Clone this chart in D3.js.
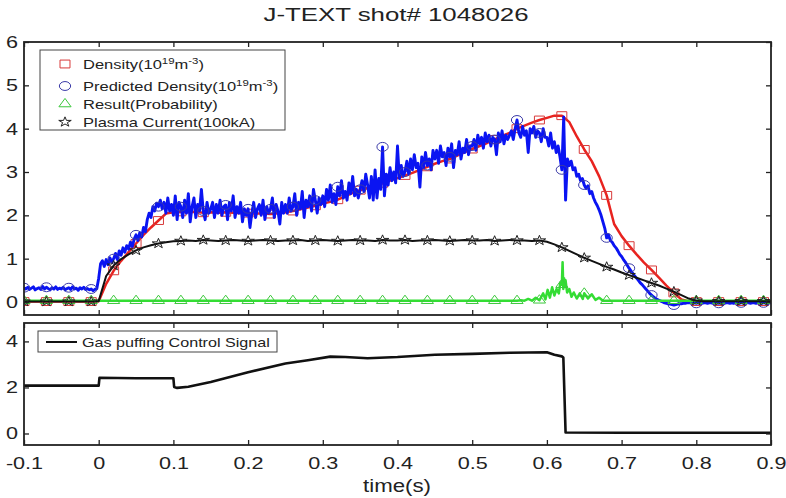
<!DOCTYPE html>
<html>
<head>
<meta charset="utf-8">
<script src="https://cdn.jsdelivr.net/npm/d3@7"></script>
<style>
  body { margin: 0; background: #fff; }
  svg { display: block; }
  text { font-family: "Liberation Sans", Arial, Helvetica, sans-serif; fill: #222; }
</style>
</head>
<body>
<svg id="chart" width="786" height="498"></svg>
<script>
// ---------------- data ----------------
const titleText = "J-TEXT shot# 1048026";
const xLabelText = "time(s)";
const xTicks = [-0.1, 0, 0.1, 0.2, 0.3, 0.4, 0.5, 0.6, 0.7, 0.8, 0.9];
const xTickLabels = ["-0.1", "0", "0.1", "0.2", "0.3", "0.4", "0.5", "0.6", "0.7", "0.8", "0.9"];
const yTopTicks = [0, 1, 2, 3, 4, 5, 6];
const yBottomTicks = [0, 2, 4];

// sampling of the diagnostics
const tStart = -0.1;
const fastStep = 0.0025;   // predicted density
const slowStep = 0.01;     // measured density, plasma current
const markerSpacing = 0.03;

// predicted density (1e19 m^-3), one row = 0.05 s
const predictedDensity = [
  0.33,0.30,0.34,0.29,0.32,0.35,0.28,0.31,0.33,0.29,0.36,0.30,0.34,0.31,0.28,0.33,0.30,0.35,0.29,0.32,
  0.30,0.34,0.28,0.31,0.33,0.29,0.35,0.30,0.32,0.27,0.33,0.30,0.34,0.29,0.31,0.28,0.30,0.26,0.29,0.31,
  0.55,0.88,0.95,0.82,0.98,0.86,1.02,0.92,1.00,1.12,0.98,1.18,1.08,1.25,1.15,1.30,1.22,1.38,1.28,1.45,
  1.55,1.42,1.60,1.50,1.72,1.62,1.90,2.05,1.95,2.20,2.10,2.28,2.20,2.35,2.15,2.30,2.05,2.40,2.10,2.25,
  2.00,2.45,1.90,2.30,2.20,1.95,2.35,2.05,2.50,1.85,2.20,2.40,1.95,2.25,2.10,2.60,2.10,1.90,2.30,2.05,
  2.15,2.30,1.95,2.25,2.05,2.35,2.00,2.20,2.24,1.90,2.30,2.10,2.45,1.95,2.20,2.05,2.30,1.85,2.15,2.00,
  2.15,1.72,2.05,2.30,1.95,2.15,2.25,2.00,2.35,1.90,2.20,2.05,2.15,2.40,1.95,2.25,2.10,1.80,2.30,2.05,
  2.25,2.05,2.40,2.10,2.20,2.50,2.00,2.30,2.15,2.55,1.95,2.35,2.20,2.45,2.10,2.60,2.35,2.05,2.40,2.25,
  2.45,2.20,2.60,2.35,2.70,2.30,2.50,2.25,2.66,2.45,2.80,2.40,2.55,2.35,2.75,2.50,2.90,2.45,2.60,2.40,
  2.60,2.80,2.55,2.95,2.70,2.40,2.90,2.35,3.05,2.40,2.85,2.60,3.58,2.45,2.95,2.70,3.10,2.80,3.00,2.75,
  3.60,2.85,3.15,2.90,3.00,3.25,2.95,3.30,3.05,3.40,3.10,3.20,2.65,3.35,3.10,3.45,3.15,3.30,3.05,3.50,
  3.30,3.50,3.20,3.60,3.35,3.45,3.15,3.55,3.35,3.65,3.10,3.50,3.40,3.70,3.30,3.55,3.45,3.75,3.40,3.60,
  3.60,3.75,3.50,3.85,3.65,3.80,3.55,3.90,3.70,3.85,3.60,3.80,3.75,3.40,3.90,3.70,3.95,3.65,3.85,3.75,
  3.85,3.95,3.75,4.00,4.20,3.90,3.80,4.05,3.85,3.95,3.45,4.00,3.90,4.05,3.80,3.95,3.90,3.70,4.00,3.80,
  3.80,3.60,3.90,3.55,3.70,3.45,3.60,3.35,3.05,4.27,2.35,3.30,3.15,3.25,3.05,3.10,2.90,2.95,2.80,2.85,
  2.70,2.62,2.68,2.50,2.55,2.40,2.30,2.22,2.12,2.00,1.85,1.70,1.48,1.55,1.42,1.38,1.30,1.25,1.18,1.10,
  1.05,0.98,0.92,0.85,0.78,0.72,0.66,0.60,0.55,0.50,0.44,0.40,0.35,0.30,0.25,0.20,0.16,0.12,0.09,0.06,
  0.04,0.02,0.00,-0.02,-0.03,-0.04,-0.05,-0.06,-0.07,-0.06,-0.05,-0.04,-0.04,-0.03,-0.03,-0.02,-0.02,-0.02,-0.02,-0.02,
  -0.03,-0.02,-0.02,-0.03,-0.02,-0.02,-0.03,-0.02,-0.02,-0.03,-0.02,-0.02,-0.03,-0.02,-0.02,-0.03,-0.02,-0.02,-0.03,-0.02,
  -0.03,-0.02,-0.02,-0.03,-0.02,-0.02,-0.03,-0.02,-0.02,-0.03,-0.02,-0.02,-0.03,-0.02,-0.02,-0.03,-0.02,-0.02,-0.03,-0.02,
  -0.02
];

// measured density (1e19 m^-3), one row = 0.1 s
const density = [
  0.01,0.01,0.01,0.01,0.01,0.01,0.01,0.01,0.01,0.01,
  0.02,0.42,0.72,0.95,1.15,1.35,1.55,1.72,1.88,2.04,
  2.07,2.08,2.07,2.08,2.06,2.07,2.06,2.07,2.06,2.05,
  2.05,2.04,2.04,2.03,2.05,2.07,2.10,2.14,2.18,2.22,
  2.27,2.31,2.36,2.44,2.52,2.58,2.63,2.68,2.74,2.80,
  2.86,2.92,2.98,3.05,3.12,3.19,3.25,3.30,3.38,3.46,
  3.53,3.60,3.67,3.75,3.83,3.90,4.00,4.07,4.14,4.20,
  4.25,4.30,4.30,4.15,3.82,3.52,3.25,2.90,2.46,1.80,
  1.52,1.30,1.10,0.91,0.74,0.56,0.38,0.21,0.06,0.01,
  0.01,0.01,0.01,0.01,0.01,0.01,0.01,0.01,0.01,0.01,
  0.01
];

// plasma current (100 kA), one row = 0.1 s
const plasmaCurrent = [
  0.01,0.01,0.01,0.01,0.01,0.01,0.01,0.01,0.01,0.01,
  0.02,0.60,0.84,0.99,1.10,1.19,1.26,1.31,1.35,1.38,
  1.40,1.41,1.42,1.41,1.43,1.42,1.41,1.42,1.43,1.42,
  1.41,1.42,1.43,1.42,1.41,1.42,1.42,1.43,1.41,1.42,
  1.43,1.42,1.41,1.42,1.43,1.42,1.42,1.41,1.43,1.42,
  1.42,1.43,1.41,1.42,1.42,1.43,1.42,1.41,1.42,1.43,
  1.42,1.42,1.43,1.41,1.42,1.43,1.42,1.42,1.41,1.42,
  1.39,1.33,1.26,1.18,1.10,1.02,0.95,0.88,0.81,0.75,
  0.68,0.62,0.56,0.50,0.44,0.38,0.31,0.24,0.16,0.08,
  0.03,0.02,0.02,0.02,0.02,0.02,0.02,0.02,0.02,0.02,
  0.02
];

// disruption predictor output (probability)
const resultTimes = [
  -0.1,-0.07,-0.04,-0.01,0.02,0.05,0.08,0.11,0.14,0.17,0.2,0.23,0.26,0.29,0.32,0.35,0.38,0.41,0.44,0.47,0.5,0.53,0.56,
  0.565,0.57,0.575,0.58,0.585,0.59,0.595,0.598,0.601,0.604,0.607,0.61,0.613,0.616,0.618,0.62,0.621,0.622,0.623,0.624,
  0.625,0.627,0.63,0.633,0.636,0.64,0.644,0.648,0.65,0.655,0.66,0.665,0.67,0.675,
  0.68,0.71,0.74,0.77,0.8,0.83,0.86,0.89,0.9
];
const resultProb = [
  0.03,0.03,0.03,0.03,0.03,0.03,0.03,0.03,0.03,0.03,0.03,0.03,0.03,0.03,0.03,0.03,0.03,0.03,0.03,0.03,0.03,0.03,0.03,
  0.04,0.03,0.07,0.03,0.10,0.04,0.20,0.06,0.28,0.10,0.34,0.15,0.30,0.20,0.45,0.40,0.92,0.30,0.55,0.35,
  0.50,0.22,0.30,0.12,0.22,0.08,0.20,0.07,0.20,0.08,0.18,0.05,0.10,0.03,
  0.03,0.03,0.03,0.03,0.03,0.03,0.03,0.03,0.03
];

// gas puffing control signal
const gasTimes = [
  -0.1,0.0,0.001,0.05,0.1,0.101,0.105,0.12,0.15,0.2,0.25,0.28,0.31,0.33,0.36,0.4,
  0.45,0.5,0.55,0.6,0.61,0.62,0.622,0.625,0.7,0.8,0.9
];
const gasSignal = [
  2.08,2.08,2.42,2.40,2.40,2.02,1.98,2.03,2.24,2.66,3.04,3.18,3.34,3.32,3.27,3.32,
  3.42,3.46,3.51,3.53,3.42,3.35,3.30,0.04,0.03,0.03,0.03
];

// legends
const legendLabels = [
  ["Density(10", {sup: "19"}, "m", {sup: "-3"}, ")"],
  ["Predicted Density(10", {sup: "19"}, "m", {sup: "-3"}, ")"],
  ["Result(Probability)"],
  ["Plasma Current(100kA)"]
];
const gasLegendLabel = "Gas puffing Control Signal";

// ---------------- drawing ----------------
const SX = 1.27;           // horizontal text/marker stretch of the figure
const svg = d3.select("#chart");

const x = d3.scaleLinear().domain([-0.1, 0.9]).range([24, 771]);
const yTop = d3.scaleLinear().domain([-0.3, 6]).range([315, 42]);
const yBot = d3.scaleLinear().domain([-0.5, 4.8]).range([445, 323]);

const colors = {
  density: "#e8231f", densityMk: "#d83a3a",
  predicted: "#0a14f2", predictedMk: "#3a3aa8",
  result: "#33dd33", resultMk: "#3cc83c",
  current: "#111111", currentMk: "#222222"
};

function onMarkerGrid(t) {
  const k = (t - tStart) / markerSpacing;
  return Math.abs(k - Math.round(k)) < 1e-6;
}
const series = (vals, step) => vals.map((v, i) => ({t: tStart + i * step, v}));
const pairs = (ts, vs) => ts.map((t, i) => ({t, v: vs[i]}));

// clip paths for the panels
const defs = svg.append("defs");
defs.append("clipPath").attr("id", "clipTop").append("rect")
  .attr("x", x(-0.1)).attr("y", yTop(6)).attr("width", x(0.9) - x(-0.1)).attr("height", yTop(-0.3) - yTop(6));
defs.append("clipPath").attr("id", "clipBot").append("rect")
  .attr("x", x(-0.1)).attr("y", yBot(4.8)).attr("width", x(0.9) - x(-0.1)).attr("height", yBot(-0.5) - yBot(4.8));

function stretchText(g, str, px, py, size, anchor, sx) {
  return g.append("text")
    .attr("transform", `translate(${px},${py}) scale(${sx || SX},1)`)
    .attr("text-anchor", anchor || "start")
    .attr("font-size", size)
    .text(str);
}

// title and x label
stretchText(svg, titleText, 396, 21, 19, "middle", 1.36);
stretchText(svg, xLabelText, 397, 492, 17.5, "middle");

// ---- top panel ----
const plotTop = svg.append("g").attr("clip-path", "url(#clipTop)");
const lineTop = d3.line().x(d => x(d.t)).y(d => yTop(d.v));

function drawSeries(data, stroke, width, markerType, markerSize, markerStroke) {
  plotTop.append("path").datum(data)
    .attr("fill", "none").attr("stroke", stroke).attr("stroke-width", width)
    .attr("stroke-linejoin", "round").attr("d", lineTop);
  const sym = d3.symbol().type(markerType).size(markerSize)();
  plotTop.append("g").selectAll("path")
    .data(data.filter(d => onMarkerGrid(d.t)))
    .join("path")
    .attr("d", sym)
    .attr("transform", d => `translate(${x(d.t)},${yTop(d.v)}) scale(${SX},1)`)
    .attr("fill", "none").attr("stroke", markerStroke).attr("stroke-width", 1)
    .attr("vector-effect", "non-scaling-stroke");
}

drawSeries(series(density, slowStep), colors.density, 2.5, d3.symbolSquare, 62, colors.densityMk);
drawSeries(series(predictedDensity, fastStep), colors.predicted, 2.9, d3.symbolCircle, 62, colors.predictedMk);
drawSeries(pairs(resultTimes, resultProb), colors.result, 2.5, d3.symbolTriangle, 40, colors.resultMk);
drawSeries(series(plasmaCurrent, slowStep), colors.current, 2.0, d3.symbolStar, 30, colors.currentMk);

// ---- bottom panel ----
svg.append("g").attr("clip-path", "url(#clipBot)").append("path")
  .datum(pairs(gasTimes, gasSignal))
  .attr("fill", "none").attr("stroke", "#111").attr("stroke-width", 2.6)
  .attr("stroke-linejoin", "round")
  .attr("d", d3.line().x(d => x(d.t)).y(d => yBot(d.v)));

// ---- axes (MATLAB-like box with inward ticks) ----
function styleAxis(g, labelled) {
  g.select(".domain").remove();
  g.selectAll(".tick line").attr("stroke", "#222").attr("stroke-width", 1.3);
  if (!labelled) g.selectAll(".tick text").remove();
  return g;
}
function boxAxes(yScale, yTicks, xLabels) {
  const x0 = x.range()[0], x1 = x.range()[1];
  const yA = yScale.range()[1], yB = yScale.range()[0];
  // left
  const gl = svg.append("g").attr("transform", `translate(${x0},0)`)
    .call(d3.axisLeft(yScale).tickValues(yTicks).tickSizeInner(-5).tickSizeOuter(0).tickPadding(6).tickFormat(d3.format("d")));
  styleAxis(gl, true);
  gl.selectAll(".tick text").attr("font-size", 17).attr("fill", "#222")
    .attr("x", -6 / SX).attr("transform", `scale(${SX},1)`);
  // right
  styleAxis(svg.append("g").attr("transform", `translate(${x1},0)`)
    .call(d3.axisRight(yScale).tickValues(yTicks).tickSizeInner(-5).tickSizeOuter(0)), false);
  // top
  styleAxis(svg.append("g").attr("transform", `translate(0,${yA})`)
    .call(d3.axisTop(x).tickValues(xTicks).tickSizeInner(-5).tickSizeOuter(0)), false);
  // bottom
  const gb = svg.append("g").attr("transform", `translate(0,${yB})`)
    .call(d3.axisBottom(x).tickValues(xTicks).tickSizeInner(-5).tickSizeOuter(0).tickPadding(12)
      .tickFormat((d, i) => xTickLabels[i]));
  styleAxis(gb, xLabels);
  if (xLabels) {
    gb.selectAll(".tick text").attr("font-size", 17).attr("fill", "#222")
      .attr("transform", `scale(${SX},1)`);
  }
  // frame
  svg.append("rect").attr("x", x0).attr("y", yA).attr("width", x1 - x0).attr("height", yB - yA)
    .attr("fill", "none").attr("stroke", "#222").attr("stroke-width", 1.8);
}
boxAxes(yTop, yTopTicks, false);
boxAxes(yBot, yBottomTicks, true);

// ---- legend of the top panel ----
const leg = svg.append("g");
leg.append("rect").attr("x", 40).attr("y", 50).attr("width", 245).attr("height", 80)
  .attr("fill", "#fff").attr("stroke", "#444").attr("stroke-width", 1);
const legRowsY = [64, 86, 104, 122];
const legSymbols = [
  [d3.symbolSquare, 62, colors.densityMk],
  [d3.symbolCircle, 62, colors.predictedMk],
  [d3.symbolTriangle, 40, colors.resultMk],
  [d3.symbolStar, 30, colors.currentMk]
];
legendLabels.forEach((parts, i) => {
  const [type, size, col] = legSymbols[i];
  leg.append("path").attr("d", d3.symbol().type(type).size(size)())
    .attr("transform", `translate(65,${legRowsY[i]}) scale(${SX},1)`)
    .attr("fill", "none").attr("stroke", col).attr("stroke-width", 1)
    .attr("vector-effect", "non-scaling-stroke");
  const t = leg.append("text")
    .attr("transform", `translate(83,${legRowsY[i] + 4.5}) scale(${SX},1)`)
    .attr("font-size", 13);
  let raised = false;
  parts.forEach(p => {
    if (typeof p === "string") {
      t.append("tspan").attr("dy", raised ? 5 : 0).text(p);
      raised = false;
    } else {
      t.append("tspan").attr("dy", raised ? 0 : -5).attr("font-size", 9).text(p.sup);
      raised = true;
    }
  });
});

// ---- legend of the bottom panel ----
const leg2 = svg.append("g");
leg2.append("rect").attr("x", 38).attr("y", 331).attr("width", 239).attr("height", 21)
  .attr("fill", "#fff").attr("stroke", "#444").attr("stroke-width", 1);
leg2.append("line").attr("x1", 46).attr("x2", 77).attr("y1", 342).attr("y2", 342)
  .attr("stroke", "#111").attr("stroke-width", 2);
stretchText(leg2, gasLegendLabel, 82, 346.5, 12.7, "start");
</script>
</body>
</html>
